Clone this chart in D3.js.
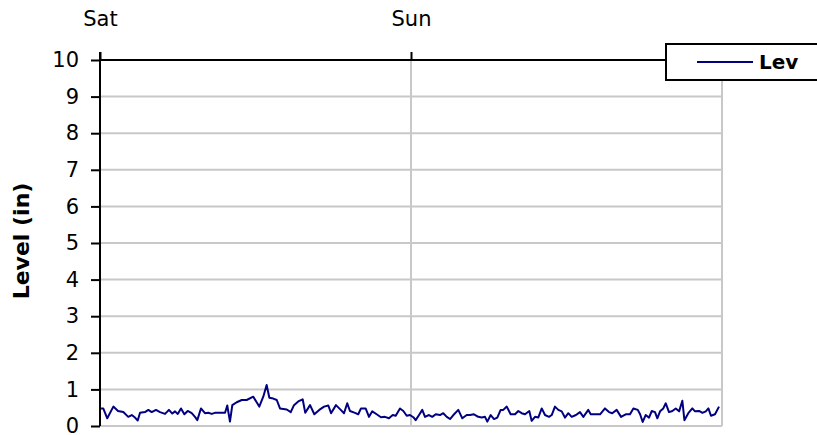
<!DOCTYPE html>
<html><head><meta charset="utf-8">
<script src="https://cdn.jsdelivr.net/npm/d3@7"></script>
<style>
html,body{margin:0;padding:0;background:#fff;}
svg{display:block;font-family:"DejaVu Sans",Arial,sans-serif;}
</style></head>
<body><svg id="c" width="817" height="435"></svg>
<script>
// hours since Saturday 00:00
const hours = [0.08,0.25,0.56,1.03,1.39,1.80,2.18,2.45,2.70,2.91,3.09,3.47,3.73,3.99,4.32,4.63,5.02,5.32,5.58,5.79,6.00,6.25,6.51,6.77,7.08,7.33,7.51,7.79,8.10,8.36,8.62,8.87,9.18,9.65,9.82,10.03,10.21,10.55,10.94,11.32,11.83,12.29,12.60,12.86,13.07,13.37,13.64,13.89,14.41,14.72,14.97,15.30,15.64,15.84,16.21,16.54,16.92,17.29,17.62,17.83,18.21,18.58,18.83,19.08,19.29,19.68,19.93,20.14,20.50,20.76,21.01,21.35,21.68,21.99,22.30,22.59,22.82,23.15,23.41,23.67,23.92,24.18,24.36,24.62,24.87,25.08,25.39,25.64,25.91,26.24,26.49,26.76,27.01,27.27,27.65,27.96,28.30,28.55,28.86,29.19,29.46,29.71,29.89,30.15,30.41,30.66,30.92,31.12,31.39,31.69,32.03,32.28,32.54,32.80,33.13,33.31,33.57,33.82,34.09,34.34,34.65,34.86,35.11,35.37,35.63,35.88,36.14,36.40,36.73,37.04,37.30,37.68,37.87,38.20,38.59,38.97,39.28,39.53,39.87,40.21,40.57,40.90,41.16,41.50,41.68,41.88,42.11,42.37,42.58,42.83,43.01,43.22,43.47,43.66,43.91,44.17,44.43,44.69,44.94,45.10,45.40,45.71,45.92,46.23,46.49,46.75,46.95,47.15,47.46,47.77];
const levels = [0.48,0.48,0.21,0.53,0.41,0.38,0.25,0.30,0.23,0.15,0.36,0.38,0.44,0.38,0.44,0.38,0.33,0.44,0.34,0.40,0.33,0.48,0.32,0.41,0.35,0.25,0.16,0.48,0.35,0.36,0.33,0.36,0.36,0.36,0.56,0.12,0.57,0.65,0.71,0.71,0.80,0.53,0.80,1.12,0.77,0.75,0.71,0.48,0.45,0.38,0.57,0.67,0.73,0.36,0.57,0.32,0.44,0.53,0.56,0.35,0.57,0.44,0.35,0.62,0.41,0.36,0.32,0.48,0.48,0.25,0.40,0.32,0.24,0.25,0.21,0.30,0.28,0.48,0.41,0.28,0.30,0.24,0.16,0.30,0.44,0.25,0.30,0.25,0.32,0.30,0.35,0.25,0.19,0.30,0.44,0.21,0.30,0.30,0.32,0.25,0.23,0.25,0.12,0.30,0.19,0.23,0.44,0.44,0.53,0.32,0.32,0.41,0.35,0.32,0.41,0.14,0.25,0.23,0.48,0.30,0.25,0.30,0.53,0.44,0.40,0.23,0.35,0.25,0.30,0.38,0.25,0.44,0.32,0.32,0.32,0.48,0.38,0.35,0.44,0.25,0.32,0.32,0.48,0.44,0.32,0.11,0.30,0.23,0.41,0.38,0.21,0.40,0.48,0.62,0.38,0.41,0.48,0.40,0.69,0.16,0.35,0.48,0.40,0.41,0.36,0.40,0.48,0.28,0.32,0.53];
const dayTicks = [0, 24];
const dayLabels = ["Sat", "Sun"];
const yTicks = [0,1,2,3,4,5,6,7,8,9,10];
const seriesName = "Lev";
const yTitle = "Level (in)";

const svg = d3.select("#c");
const L = 100, R = 722, T = 60, B = 426;
const FONT = "DejaVu Sans, Arial, sans-serif";
const x = d3.scaleLinear().domain([0, 48]).range([L, R]);
const y = d3.scaleLinear().domain([0, 10]).range([B, T]);

// horizontal gridlines
svg.append("g").selectAll("line").data(yTicks.filter(d => d < 10)).join("line")
  .attr("x1", L).attr("x2", R).attr("y1", d => y(d)).attr("y2", d => y(d))
  .attr("stroke", "#c8c8c8").attr("stroke-width", 2);
// vertical gridlines
svg.append("g").selectAll("line").data(dayTicks.filter(d => d > 0).concat([48])).join("line")
  .attr("x1", d => x(d)).attr("x2", d => x(d)).attr("y1", T).attr("y2", B)
  .attr("stroke", "#c8c8c8").attr("stroke-width", 2);

// line
const line = d3.line().x((d, i) => x(hours[i])).y(d => y(d));
svg.append("path").datum(levels).attr("d", line)
  .attr("fill", "none").attr("stroke", "#000080").attr("stroke-width", 2)
  .attr("stroke-linejoin", "round");

// left axis
const yAxis = svg.append("g").attr("transform", `translate(${L},0)`)
  .call(d3.axisLeft(y).tickValues(yTicks).tickSize(9).tickPadding(12).tickFormat(d3.format("d")));
yAxis.select(".domain").attr("stroke", "#000").attr("stroke-width", 2).attr("d", `M0,${T-8}V${B}`);
yAxis.selectAll(".tick line").attr("stroke", "#000").attr("stroke-width", 2);
yAxis.selectAll(".tick text").attr("font-size", 21).attr("fill", "#000").attr("font-family", FONT);

// top axis
const xAxis = svg.append("g").attr("transform", `translate(0,${T})`)
  .call(d3.axisTop(x).tickValues(dayTicks).tickSize(8).tickPadding(26).tickFormat((d, i) => dayLabels[i]));
xAxis.select(".domain").attr("stroke", "#000").attr("stroke-width", 2).attr("d", `M${L},0H${R}`);
xAxis.selectAll(".tick line").attr("stroke", "#000").attr("stroke-width", 2);
xAxis.selectAll(".tick text").attr("font-size", 21).attr("fill", "#000").attr("font-family", FONT);

// y title
svg.append("text").attr("transform", `translate(29,241) rotate(-90)`)
  .attr("text-anchor", "middle").attr("font-size", 22).attr("font-weight", "bold")
  .attr("font-family", FONT).text(yTitle);

// legend
const lg = svg.append("g");
lg.append("rect").attr("x", 666).attr("y", 44).attr("width", 160).attr("height", 36)
  .attr("fill", "#fff").attr("stroke", "#000").attr("stroke-width", 2);
lg.append("line").attr("x1", 697).attr("x2", 753).attr("y1", 62).attr("y2", 62)
  .attr("stroke", "#000080").attr("stroke-width", 2);
lg.append("text").attr("x", 759).attr("y", 69).attr("font-size", 20).attr("font-weight", "bold")
  .attr("font-family", FONT).text(seriesName);
</script></body></html>
